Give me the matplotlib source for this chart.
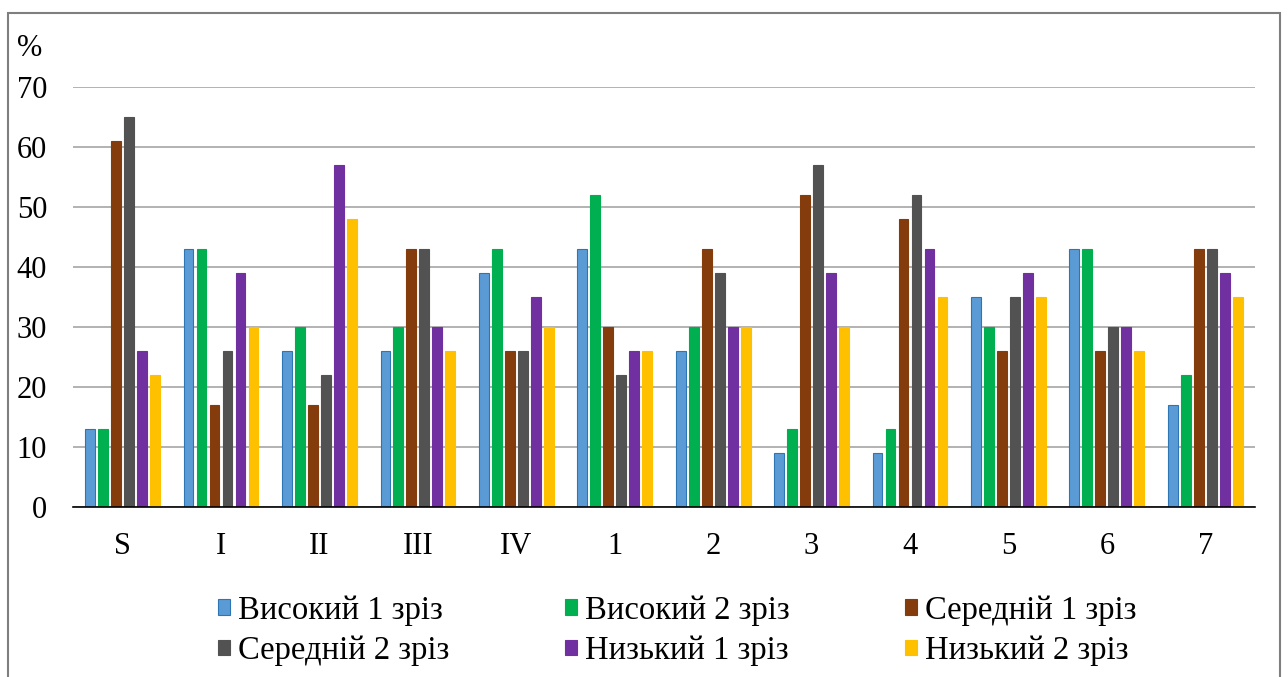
import matplotlib
matplotlib.use('Agg')
import matplotlib.pyplot as plt
import numpy as np
from matplotlib.patches import Rectangle

plt.rcParams['font.family'] = ['Liberation Serif', 'DejaVu Serif']

categories = ['S', 'I', 'II', 'III', 'IV', '1', '2', '3', '4', '5', '6', '7']
series_names = ['Високий 1 зріз', 'Високий 2 зріз', 'Середній 1 зріз',
                'Середній 2 зріз', 'Низький 1 зріз', 'Низький 2 зріз']
high_1 = [13, 43, 26, 26, 39, 43, 26, 9, 9, 35, 43, 17]
high_2 = [13, 43, 30, 30, 43, 52, 30, 13, 13, 30, 43, 22]
mid_1 = [61, 17, 17, 43, 26, 30, 43, 52, 48, 26, 26, 43]
mid_2 = [65, 26, 22, 43, 26, 22, 39, 57, 52, 35, 30, 43]
low_1 = [26, 39, 57, 30, 35, 26, 30, 39, 43, 39, 30, 39]
low_2 = [22, 30, 48, 26, 30, 26, 30, 30, 35, 35, 26, 35]

colors = ['#5b9bd5', '#00b050', '#843c0c', '#525252', '#7030a0', '#ffc000']
edges = ['#2e75b6', '#00b050', '#843c0c', '#525252', '#7030a0', '#ffc000']

fig = plt.figure(figsize=(12.88, 6.77), dpi=100)
ax = fig.add_axes([0.057, 0.251, 0.917, 0.6205])

x = np.arange(len(categories))
slot = 0.132
width = 0.10
for i, (vals, name) in enumerate(zip([high_1, high_2, mid_1, mid_2, low_1, low_2], series_names)):
    ax.bar(x + (i - 2.5) * slot, vals, width=width, color=colors[i],
           edgecolor=edges[i], linewidth=0.8, label=name, zorder=3)

ax.set_xlim(-0.5, len(categories) - 0.5)
ax.set_ylim(0, 70)
ax.set_yticks(range(0, 71, 10))
ax.set_xticks(x)
ax.set_xticklabels(categories)
ax.tick_params(axis='both', length=0, labelsize=22)
ax.tick_params(axis='x', pad=18)
ax.tick_params(axis='y', pad=19)
ax.yaxis.grid(True, color='#a6a6a6', linewidth=1.2)
ax.set_axisbelow(True)
for side in ['top', 'right', 'left']:
    ax.spines[side].set_visible(False)
ax.spines['bottom'].set_color('black')
ax.spines['bottom'].set_linewidth(1.2)
ax.spines['bottom'].set_zorder(4)

fig.text(0.013, 0.928, '%', fontsize=22, ha='left', va='center')

# legend is filled column by column, so reorder to read row by row
handles, labels = ax.get_legend_handles_labels()
order = [0, 3, 1, 4, 2, 5]
fig.legend([handles[k] for k in order], [labels[k] for k in order],
           loc='upper center', bbox_to_anchor=(0.526, 0.14), ncol=3,
           frameon=False, fontsize=23.5, handlelength=0.35, handleheight=0.35,
           handletextpad=0.25, columnspacing=3.55, labelspacing=0.3,
           borderaxespad=0)

fig.patches.append(Rectangle((0.006, -0.05), 0.988, 1.031, transform=fig.transFigure,
                             fill=False, edgecolor='#7f7f7f', linewidth=1.5))

fig.savefig('out.png', dpi=100)
